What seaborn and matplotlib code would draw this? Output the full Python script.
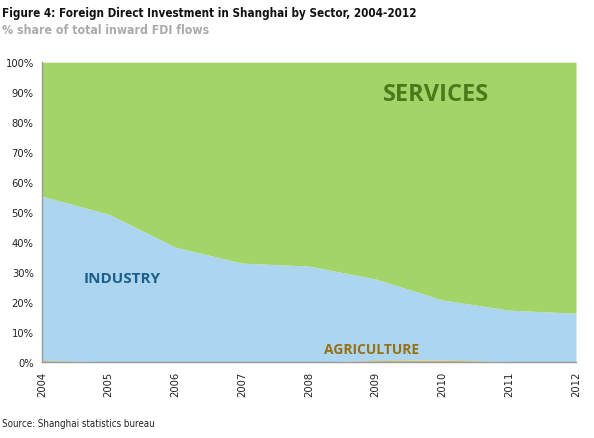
import pandas as pd
import matplotlib.pyplot as plt
import seaborn as sns

years = [2004, 2005, 2006, 2007, 2008, 2009, 2010, 2011, 2012]
agriculture = [0.5, 0.1, 0.0, 0.0, 0.0, 0.5, 0.6, 0.2, 0.1]
industry = [54.8, 49.2, 38.3, 33.0, 32.0, 27.2, 20.1, 17.1, 16.2]
services = [100 - a - i for a, i in zip(agriculture, industry)]

df = pd.DataFrame({'year': years, 'agriculture': agriculture,
                   'industry': industry, 'services': services})

sns.set_style("white")
plt.rcParams['font.family'] = ['DejaVu Sans']
plt.rcParams['font.stretch'] = 'condensed'

fig = plt.figure(figsize=(5.94, 4.39), dpi=100)
ax = fig.add_axes([0.0707, 0.173, 0.899, 0.683])

ax.stackplot(df['year'], df['agriculture'], df['industry'], df['services'],
             colors=['#f0b232', '#acd6f0', '#a3d468'], linewidth=0)

ax.set_xlim(2004, 2012)
ax.set_ylim(0, 100)
ax.set_xticks(years)
ax.set_xticklabels([str(y) for y in years], rotation=90, fontsize=8, color='#222222')
ax.set_yticks(range(0, 101, 10))
ax.set_yticklabels([f'{v}%' for v in range(0, 101, 10)], fontsize=8, color='#222222')
ax.tick_params(axis='both', length=0, pad=6)
for s in ['top', 'right']:
    ax.spines[s].set_visible(False)
for s in ['left', 'bottom']:
    ax.spines[s].set_color('#999999')
    ax.spines[s].set_linewidth(1)

ax.text(2009.9, 89.3, 'SERVICES', fontsize=17, fontweight='bold', color='#4b7a1c',
        ha='center', va='center', family=['Open Sans', 'DejaVu Sans'], stretch='normal')
ax.text(2005.2, 28, 'INDUSTRY', fontsize=11, fontweight='bold', color='#1d5f8a',
        ha='center', va='center', family=['Open Sans', 'DejaVu Sans'], stretch='normal')
ax.text(2008.93, 4.3, 'AGRICULTURE', fontsize=10, fontweight='bold', color='#9a6f12',
        ha='center', va='center', family=['Open Sans', 'DejaVu Sans'], stretch='normal')

fig.text(0.003, 0.97, 'Figure 4: Foreign Direct Investment in Shanghai by Sector, 2004-2012',
         fontsize=8.4, fontweight='bold', color='#111111', va='center')
fig.text(0.003, 0.93, '% share of total inward FDI flows', fontsize=8.8, fontweight='bold',
         color='#aaaaaa', va='center')
fig.text(0.003, 0.035, 'Source: Shanghai statistics bureau', fontsize=7, color='#222222',
         va='center')

fig.savefig('out.png', dpi=100)
